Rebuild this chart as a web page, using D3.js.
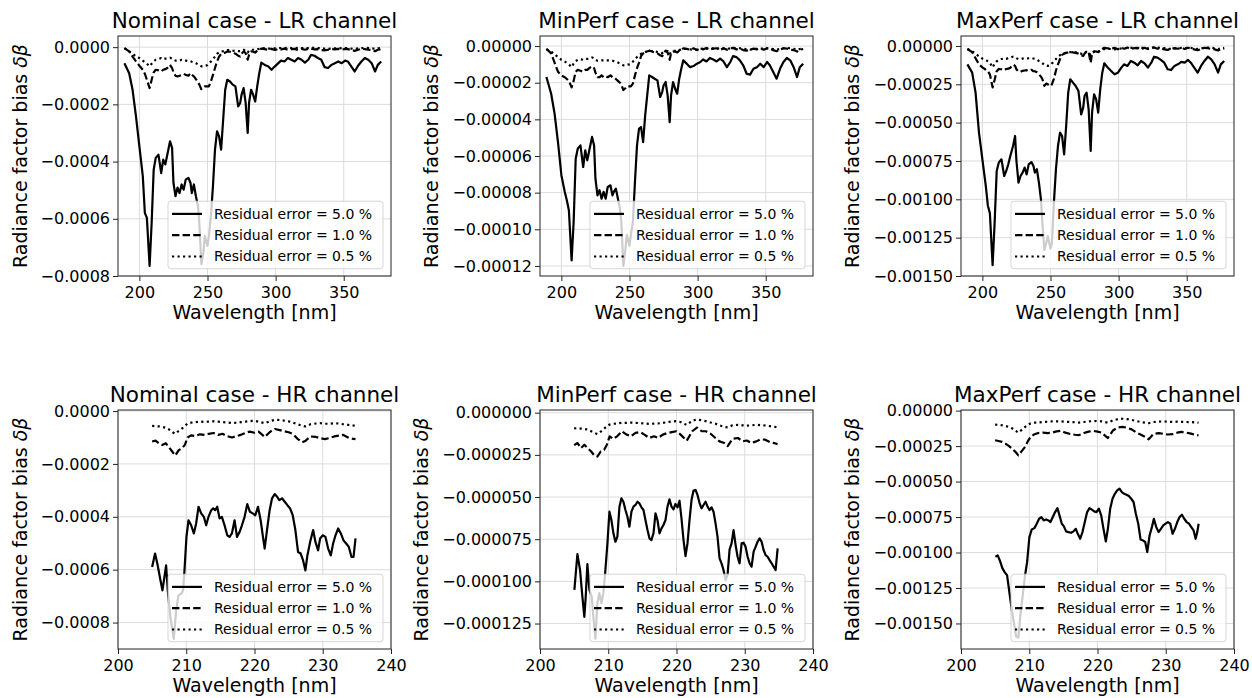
<!DOCTYPE html>
<html lang="en">
<head>
<meta charset="utf-8">
<title>Radiance factor bias</title>
<script src="https://d3js.org/d3.v7.min.js"></script>
<style>
    body { margin: 0; background: #fff; }
    svg text { font-family: "DejaVu Sans", sans-serif; fill: #000; }
    .grid line { stroke: #dcdcdc; stroke-width: 1; }
    .series { fill: none; stroke: #000; stroke-width: 2.2; stroke-linejoin: round; }
</style>
</head>
<body>
<svg id="chart" width="1252" height="698"></svg>
<script>
// ---- LR channel (top row), common wavelength grid [nm]
const lrWave = [
    189, 192.5, 195, 197.5, 200, 202.5, 204, 205.5, 207.5, 209,
    210.5, 212, 214, 216, 217.5, 219, 220.5, 222.5, 224, 225,
    226.5, 228, 229.5, 231, 232.5, 234, 236, 237.5, 238.5, 240,
    241.5, 243, 244, 245.5, 247, 248, 250, 251, 252.5, 254,
    255.5, 257, 258.5, 260, 261.5, 263, 264.5, 266.5, 268.5, 270.5,
    272.5, 274, 275, 276.5, 278, 279.5, 280.5, 282, 283.5, 285,
    286.5, 288, 289.5, 292, 294.5, 297, 299.5, 302, 304, 306.5,
    309, 311.5, 314, 316.5, 319, 321.5, 324, 326, 328.5, 331,
    333.5, 336, 338.5, 341, 343.5, 346, 348.5, 351, 353, 355.5,
    358, 360.5, 363, 365.5, 368, 370.5, 373, 375, 377.5
];

const lrNomSolid = [
    -5.6e-5, -9.1e-5, -14.9e-5, -24.2e-5, -34.7e-5, -45.1e-5, -57.9e-5, -59.7e-5, -76.5e-5, -61.4e-5,
    -42.8e-5, -38.7e-5, -37.6e-5, -44.0e-5, -39.3e-5, -41.0e-5, -37.6e-5, -32.9e-5, -35.2e-5, -47.4e-5,
    -52.1e-5, -49.1e-5, -51.0e-5, -48.0e-5, -49.8e-5, -46.3e-5, -45.7e-5, -47.4e-5, -51.0e-5, -48.0e-5,
    -52.1e-5, -55.6e-5, -61.4e-5, -75.9e-5, -71.9e-5, -66.0e-5, -69.5e-5, -66.0e-5, -59.1e-5, -48.6e-5,
    -35.8e-5, -29.4e-5, -31.2e-5, -35.8e-5, -25.3e-5, -14.9e-5, -11.4e-5, -12.0e-5, -13.1e-5, -13.7e-5,
    -20.7e-5, -19.5e-5, -16.6e-5, -14.3e-5, -19.5e-5, -30.0e-5, -19.5e-5, -14.9e-5, -16.6e-5, -19.0e-5,
    -13.7e-5, -9.1e-5, -5.4e-5, -6.2e-5, -6.7e-5, -7.9e-5, -6.7e-5, -5.6e-5, -4.7e-5, -5.0e-5,
    -3.8e-5, -4.4e-5, -5.0e-5, -3.8e-5, -4.4e-5, -5.4e-5, -4.4e-5, -2.7e-5, -3.0e-5, -3.8e-5,
    -4.4e-5, -7.0e-5, -7.3e-5, -6.2e-5, -5.6e-5, -5.0e-5, -5.6e-5, -4.7e-5, -5.0e-5, -6.7e-5,
    -8.5e-5, -6.5e-5, -5.0e-5, -3.8e-5, -4.4e-5, -5.6e-5, -8.5e-5, -6.2e-5, -5.0e-5
];
const lrNomDash = [
    -0.35e-5, -1.5e-5, -3.3e-5, -5.0e-5, -6.5e-5, -7.9e-5, -9.3e-5, -11.4e-5, -14.3e-5, -11.4e-5,
    -8.8e-5, -7.9e-5, -8.1e-5, -8.5e-5, -7.9e-5, -7.7e-5, -7.3e-5, -6.2e-5, -7.3e-5, -8.8e-5,
    -10.0e-5, -10.2e-5, -10.0e-5, -9.7e-5, -9.3e-5, -9.7e-5, -10.0e-5, -9.1e-5, -9.7e-5, -10.2e-5,
    -11.2e-5, -12.3e-5, -13.1e-5, -14.7e-5, -14.1e-5, -13.7e-5, -13.7e-5, -13.7e-5, -12.0e-5, -9.7e-5,
    -7.3e-5, -5.0e-5, -3.3e-5, -2.4e-5, -2.1e-5, -1.9e-5, -1.5e-5, -1.6e-5, -1.9e-5, -2.3e-5,
    -3.0e-5, -3.3e-5, -2.3e-5, -1.5e-5, -2.1e-5, -4.4e-5, -2.7e-5, -1.5e-5, -1.6e-5, -1.9e-5,
    -1.2e-5, -0.9e-5, -0.5e-5, -0.7e-5, -0.9e-5, -0.6e-5, -1.0e-5, -0.6e-5, -0.8e-5, -0.5e-5,
    -0.9e-5, -0.7e-5, -0.6e-5, -1.0e-5, -0.6e-5, -0.9e-5, -0.6e-5, -0.5e-5, -0.8e-5, -0.7e-5,
    -1.0e-5, -1.1e-5, -0.9e-5, -0.7e-5, -0.8e-5, -0.6e-5, -0.9e-5, -0.6e-5, -0.7e-5, -1.0e-5,
    -1.3e-5, -0.9e-5, -0.6e-5, -0.7e-5, -0.9e-5, -1.0e-5, -1.4e-5, -0.9e-5, -0.8e-5
];
const lrNomDot = [
    -0.35e-5, -1.5e-5, -2.3e-5, -3.3e-5, -3.8e-5, -4.7e-5, -5.3e-5, -5.8e-5, -6.7e-5, -5.8e-5,
    -5.0e-5, -4.4e-5, -4.2e-5, -3.8e-5, -4.2e-5, -4.0e-5, -4.0e-5, -3.7e-5, -4.0e-5, -4.4e-5,
    -4.7e-5, -4.7e-5, -4.7e-5, -4.4e-5, -4.7e-5, -4.7e-5, -4.9e-5, -4.9e-5, -5.1e-5, -5.3e-5,
    -5.6e-5, -6.0e-5, -6.3e-5, -6.7e-5, -6.7e-5, -6.5e-5, -6.3e-5, -5.8e-5, -5.0e-5, -4.2e-5,
    -3.3e-5, -2.3e-5, -1.9e-5, -1.5e-5, -1.4e-5, -1.2e-5, -1.0e-5, -1.0e-5, -1.2e-5, -1.3e-5,
    -1.4e-5, -1.4e-5, -1.2e-5, -0.9e-5, -1.2e-5, -1.9e-5, -1.2e-5, -0.9e-5, -0.9e-5, -0.9e-5,
    -0.7e-5, -0.6e-5, -0.35e-5, -0.4e-5, -0.5e-5, -0.5e-5, -0.4e-5, -0.35e-5, -0.3e-5, -0.35e-5,
    -0.25e-5, -0.3e-5, -0.35e-5, -0.25e-5, -0.3e-5, -0.4e-5, -0.3e-5, -0.2e-5, -0.2e-5, -0.3e-5,
    -0.35e-5, -0.55e-5, -0.6e-5, -0.45e-5, -0.4e-5, -0.35e-5, -0.4e-5, -0.3e-5, -0.35e-5, -0.5e-5,
    -0.65e-5, -0.45e-5, -0.35e-5, -0.25e-5, -0.3e-5, -0.4e-5, -0.6e-5, -0.4e-5, -0.35e-5
];

const lrMinSolid = [
    -1.69e-5, -2.6e-5, -3.69e-5, -5.24e-5, -7.05e-5, -7.96e-5, -8.42e-5, -8.96e-5, -11.7e-5, -9.6e-5,
    -6.15e-5, -5.6e-5, -5.42e-5, -6.6e-5, -5.69e-5, -6.24e-5, -5.69e-5, -4.96e-5, -5.42e-5, -7.24e-5,
    -8.15e-5, -7.87e-5, -8.33e-5, -7.96e-5, -8.33e-5, -7.69e-5, -7.6e-5, -8.15e-5, -7.96e-5, -7.78e-5,
    -8.33e-5, -8.87e-5, -9.6e-5, -12.0e-5, -11.1e-5, -10.3e-5, -10.9e-5, -10.3e-5, -9.6e-5, -7.42e-5,
    -5.42e-5, -4.51e-5, -4.42e-5, -5.24e-5, -3.78e-5, -2.69e-5, -1.6e-5, -1.69e-5, -1.78e-5, -1.87e-5,
    -2.78e-5, -2.51e-5, -2.15e-5, -1.96e-5, -2.69e-5, -4.15e-5, -2.69e-5, -1.96e-5, -2.33e-5, -2.6e-5,
    -1.78e-5, -1.24e-5, -0.78e-5, -0.96e-5, -1.15e-5, -1.09e-5, -0.96e-5, -0.87e-5, -0.73e-5, -0.84e-5,
    -0.65e-5, -0.73e-5, -0.84e-5, -0.69e-5, -0.84e-5, -1.15e-5, -0.87e-5, -0.55e-5, -0.6e-5, -0.78e-5,
    -1.05e-5, -1.51e-5, -1.56e-5, -1.24e-5, -1.15e-5, -0.96e-5, -1.15e-5, -0.87e-5, -1.05e-5, -1.42e-5,
    -1.78e-5, -1.24e-5, -0.87e-5, -0.65e-5, -0.78e-5, -1.15e-5, -1.69e-5, -1.15e-5, -0.96e-5
];
const lrMinDash = [
    -0.15e-5, -0.4e-5, -0.9e-5, -1.4e-5, -1.6e-5, -1.7e-5, -1.8e-5, -1.9e-5, -2.25e-5, -1.9e-5,
    -1.4e-5, -1.3e-5, -1.35e-5, -1.4e-5, -1.3e-5, -1.3e-5, -1.2e-5, -1.1e-5, -1.2e-5, -1.45e-5,
    -1.7e-5, -1.7e-5, -1.6e-5, -1.7e-5, -1.65e-5, -1.7e-5, -1.6e-5, -1.7e-5, -1.7e-5, -1.8e-5,
    -1.9e-5, -2.0e-5, -2.1e-5, -2.4e-5, -2.3e-5, -2.2e-5, -2.2e-5, -2.2e-5, -2.05e-5, -1.6e-5,
    -1.2e-5, -0.9e-5, -0.55e-5, -0.4e-5, -0.35e-5, -0.3e-5, -0.25e-5, -0.3e-5, -0.35e-5, -0.4e-5,
    -0.5e-5, -0.55e-5, -0.4e-5, -0.25e-5, -0.35e-5, -0.75e-5, -0.4e-5, -0.3e-5, -0.3e-5, -0.35e-5,
    -0.25e-5, -0.2e-5, -0.12e-5, -0.15e-5, -0.2e-5, -0.12e-5, -0.22e-5, -0.12e-5, -0.18e-5, -0.1e-5,
    -0.2e-5, -0.14e-5, -0.12e-5, -0.22e-5, -0.12e-5, -0.2e-5, -0.12e-5, -0.1e-5, -0.18e-5, -0.14e-5,
    -0.22e-5, -0.25e-5, -0.2e-5, -0.14e-5, -0.18e-5, -0.12e-5, -0.2e-5, -0.12e-5, -0.15e-5, -0.22e-5,
    -0.28e-5, -0.2e-5, -0.12e-5, -0.14e-5, -0.2e-5, -0.22e-5, -0.3e-5, -0.2e-5, -0.16e-5
];
const lrMinDot = [
    -0.18e-5, -0.3e-5, -0.45e-5, -0.6e-5, -0.75e-5, -0.85e-5, -0.92e-5, -1.0e-5, -1.15e-5, -0.95e-5,
    -0.82e-5, -0.75e-5, -0.72e-5, -0.75e-5, -0.7e-5, -0.7e-5, -0.68e-5, -0.62e-5, -0.66e-5, -0.75e-5,
    -0.8e-5, -0.8e-5, -0.78e-5, -0.78e-5, -0.8e-5, -0.78e-5, -0.78e-5, -0.8e-5, -0.82e-5, -0.85e-5,
    -0.9e-5, -0.95e-5, -0.98e-5, -1.05e-5, -1.05e-5, -1.02e-5, -1.0e-5, -0.95e-5, -0.85e-5, -0.72e-5,
    -0.6e-5, -0.5e-5, -0.42e-5, -0.36e-5, -0.32e-5, -0.3e-5, -0.27e-5, -0.27e-5, -0.29e-5, -0.32e-5,
    -0.36e-5, -0.38e-5, -0.32e-5, -0.26e-5, -0.28e-5, -0.45e-5, -0.32e-5, -0.26e-5, -0.26e-5, -0.27e-5,
    -0.22e-5, -0.18e-5, -0.15e-5, -0.16e-5, -0.18e-5, -0.2e-5, -0.18e-5, -0.15e-5, -0.13e-5, -0.14e-5,
    -0.12e-5, -0.13e-5, -0.14e-5, -0.12e-5, -0.13e-5, -0.15e-5, -0.13e-5, -0.1e-5, -0.11e-5, -0.12e-5,
    -0.14e-5, -0.18e-5, -0.19e-5, -0.16e-5, -0.15e-5, -0.13e-5, -0.14e-5, -0.12e-5, -0.13e-5, -0.16e-5,
    -0.2e-5, -0.16e-5, -0.12e-5, -0.1e-5, -0.12e-5, -0.15e-5, -0.2e-5, -0.16e-5, -0.13e-5
];

const lrMaxSolid = [
    -12.0e-5, -17.4e-5, -30.4e-5, -56.5e-5, -73.9e-5, -91.3e-5, -104e-5, -109e-5, -143e-5, -115e-5,
    -81.5e-5, -76.1e-5, -73.9e-5, -84.8e-5, -81.5e-5, -77.2e-5, -71.7e-5, -65.2e-5, -58.7e-5, -75.0e-5,
    -89.1e-5, -84.8e-5, -82.6e-5, -79.3e-5, -83.7e-5, -77.2e-5, -75.7e-5, -78.3e-5, -82.6e-5, -80.4e-5,
    -89.1e-5, -100e-5, -115e-5, -133e-5, -128e-5, -124e-5, -132e-5, -129e-5, -102e-5, -80.4e-5,
    -65.2e-5, -56.5e-5, -58.7e-5, -70.7e-5, -52.2e-5, -30.4e-5, -21.7e-5, -23.9e-5, -26.1e-5, -29.3e-5,
    -44.6e-5, -40.2e-5, -32.6e-5, -30.4e-5, -41.3e-5, -68.5e-5, -43.5e-5, -31.5e-5, -34.8e-5, -43.5e-5,
    -28.3e-5, -17.4e-5, -11.3e-5, -14.1e-5, -16.3e-5, -18.5e-5, -17.4e-5, -14.1e-5, -12.0e-5, -13.0e-5,
    -9.8e-5, -10.9e-5, -12.6e-5, -9.8e-5, -11.3e-5, -14.1e-5, -10.9e-5, -7.0e-5, -7.6e-5, -9.1e-5,
    -10.9e-5, -15.2e-5, -15.7e-5, -13.0e-5, -12.0e-5, -10.4e-5, -10.9e-5, -9.1e-5, -10.9e-5, -14.1e-5,
    -17.4e-5, -13.0e-5, -9.8e-5, -7.0e-5, -8.7e-5, -12.0e-5, -17.4e-5, -12.0e-5, -9.8e-5
];
const lrMaxDash = [
    -2.0e-5, -4.0e-5, -8.0e-5, -12.0e-5, -14.0e-5, -15.5e-5, -16.5e-5, -18.5e-5, -27.0e-5, -22.0e-5,
    -16.5e-5, -15.0e-5, -15.2e-5, -15.8e-5, -15.0e-5, -14.8e-5, -14.2e-5, -12.2e-5, -13.0e-5, -15.2e-5,
    -16.8e-5, -16.8e-5, -16.2e-5, -16.0e-5, -15.8e-5, -16.2e-5, -15.5e-5, -16.5e-5, -16.5e-5, -17.2e-5,
    -18.5e-5, -20.0e-5, -21.5e-5, -26.0e-5, -24.5e-5, -25.0e-5, -26.2e-5, -25.0e-5, -21.5e-5, -16.0e-5,
    -12.0e-5, -8.5e-5, -5.8e-5, -5.0e-5, -4.5e-5, -4.2e-5, -3.8e-5, -4.2e-5, -4.5e-5, -5.0e-5,
    -6.0e-5, -6.5e-5, -5.0e-5, -3.5e-5, -4.0e-5, -11.0e-5, -5.0e-5, -3.5e-5, -3.6e-5, -4.0e-5,
    -2.8e-5, -2.0e-5, -1.2e-5, -1.5e-5, -2.0e-5, -1.2e-5, -2.2e-5, -1.2e-5, -1.8e-5, -1.0e-5,
    -2.0e-5, -1.4e-5, -1.2e-5, -2.2e-5, -1.2e-5, -2.0e-5, -1.2e-5, -1.0e-5, -1.8e-5, -1.4e-5,
    -2.2e-5, -2.5e-5, -2.0e-5, -1.4e-5, -1.8e-5, -1.2e-5, -2.0e-5, -1.2e-5, -1.5e-5, -2.2e-5,
    -2.8e-5, -2.0e-5, -1.2e-5, -1.4e-5, -2.0e-5, -2.2e-5, -3.0e-5, -2.0e-5, -1.6e-5
];
const lrMaxDot = [
    -2.0e-5, -3.5e-5, -5.0e-5, -6.8e-5, -8.2e-5, -9.0e-5, -10.0e-5, -11.0e-5, -14.0e-5, -11.5e-5,
    -10.0e-5, -9.0e-5, -8.5e-5, -8.2e-5, -8.5e-5, -7.8e-5, -7.6e-5, -7.0e-5, -7.2e-5, -8.0e-5,
    -8.5e-5, -8.5e-5, -8.2e-5, -8.0e-5, -8.2e-5, -8.0e-5, -7.8e-5, -8.2e-5, -8.5e-5, -9.0e-5,
    -9.8e-5, -10.5e-5, -11.2e-5, -12.5e-5, -12.8e-5, -13.0e-5, -12.5e-5, -11.5e-5, -10.0e-5, -8.5e-5,
    -7.0e-5, -6.0e-5, -5.2e-5, -4.6e-5, -4.4e-5, -4.2e-5, -4.0e-5, -4.0e-5, -4.2e-5, -4.5e-5,
    -5.0e-5, -5.2e-5, -4.5e-5, -3.8e-5, -4.0e-5, -6.0e-5, -4.5e-5, -3.8e-5, -3.6e-5, -3.8e-5,
    -3.2e-5, -2.5e-5, -2.0e-5, -1.8e-5, -2.0e-5, -2.2e-5, -2.0e-5, -1.6e-5, -1.4e-5, -1.5e-5,
    -1.2e-5, -1.3e-5, -1.5e-5, -1.2e-5, -1.3e-5, -1.6e-5, -1.3e-5, -0.9e-5, -1.0e-5, -1.2e-5,
    -1.4e-5, -1.8e-5, -1.9e-5, -1.6e-5, -1.5e-5, -1.3e-5, -1.4e-5, -1.2e-5, -1.3e-5, -1.6e-5,
    -2.0e-5, -1.6e-5, -1.2e-5, -1.0e-5, -1.2e-5, -1.5e-5, -2.0e-5, -1.6e-5, -1.3e-5
];

// ---- HR channel (bottom row)
const hrNomWave = [
    205.0, 205.43, 205.82, 206.22, 206.51, 206.8, 207.05, 207.29, 207.68, 208.17,
    208.52, 208.86, 209.25, 209.54, 209.74, 210.03, 210.33, 210.72, 211.11, 211.45,
    211.8, 212.19, 212.58, 212.92, 213.26, 213.66, 213.95, 214.24, 214.54, 214.88,
    215.22, 215.61, 216.01, 216.35, 216.69, 217.08, 217.43, 217.82, 218.16, 218.55,
    218.94, 219.33, 219.73, 220.12, 220.51, 220.9, 221.24, 221.49, 221.83, 222.22,
    222.57, 222.96, 223.25, 223.64, 224.03, 224.43, 224.82, 225.21, 225.6, 225.99,
    226.38, 226.77, 227.12, 227.46, 227.75, 228.15, 228.59, 228.93, 229.32, 229.61,
    230.01, 230.4, 230.79, 231.18, 231.52, 231.87, 232.26, 232.65, 233.04, 233.43,
    233.82, 234.21, 234.51, 234.8
];
const hrNomSolid = [
    -59.0e-5, -53.9e-5, -58.4e-5, -64.0e-5, -67.8e-5, -62.8e-5, -58.4e-5, -67.8e-5, -78.0e-5, -86.2e-5,
    -75.4e-5, -69.7e-5, -69.1e-5, -67.8e-5, -60.3e-5, -47.6e-5, -41.3e-5, -43.2e-5, -46.3e-5, -42.5e-5,
    -36.2e-5, -38.7e-5, -40.0e-5, -43.2e-5, -40.0e-5, -37.5e-5, -36.8e-5, -37.5e-5, -36.2e-5, -40.6e-5,
    -40.0e-5, -43.2e-5, -47.0e-5, -47.6e-5, -46.3e-5, -41.3e-5, -47.6e-5, -45.7e-5, -43.2e-5, -40.0e-5,
    -35.2e-5, -38.1e-5, -38.7e-5, -39.4e-5, -36.2e-5, -41.3e-5, -47.6e-5, -52.0e-5, -45.0e-5, -37.5e-5,
    -33.0e-5, -31.4e-5, -32.2e-5, -33.7e-5, -33.0e-5, -34.3e-5, -35.6e-5, -36.8e-5, -39.4e-5, -45.0e-5,
    -53.3e-5, -53.9e-5, -56.5e-5, -60.3e-5, -54.6e-5, -49.5e-5, -45.0e-5, -49.5e-5, -52.7e-5, -48.2e-5,
    -47.0e-5, -47.6e-5, -52.0e-5, -54.6e-5, -50.1e-5, -47.0e-5, -44.4e-5, -46.3e-5, -48.9e-5, -50.1e-5,
    -51.4e-5, -55.2e-5, -55.2e-5, -48.2e-5
];

const hrMinWave = [
    205.04, 205.48, 205.87, 206.21, 206.5, 206.7, 206.94, 207.24, 207.58, 207.82,
    208.12, 208.41, 208.7, 209.0, 209.29, 209.58, 209.88, 210.17, 210.46, 210.76,
    211.05, 211.34, 211.64, 211.93, 212.22, 212.52, 212.81, 213.1, 213.4, 213.69,
    213.99, 214.28, 214.57, 214.87, 215.16, 215.45, 215.75, 216.04, 216.33, 216.63,
    216.92, 217.21, 217.51, 217.8, 218.09, 218.39, 218.68, 218.97, 219.27, 219.56,
    219.85, 220.15, 220.44, 220.73, 221.03, 221.32, 221.61, 221.91, 222.2, 222.49,
    222.79, 223.08, 223.37, 223.67, 223.96, 224.25, 224.55, 224.84, 225.13, 225.43,
    225.72, 226.01, 226.31, 226.6, 226.89, 227.19, 227.48, 227.78, 228.07, 228.36,
    228.66, 228.95, 229.24, 229.54, 229.83, 230.12, 230.42, 230.71, 231.0, 231.3,
    231.59, 231.88, 232.18, 232.47, 232.76, 233.06, 233.35, 233.64, 233.94, 234.23,
    234.52, 234.82
];
const hrMinSolid = [
    -10.5e-5, -8.38e-5, -9.33e-5, -10.9e-5, -12.1e-5, -10.9e-5, -8.97e-5, -10.5e-5, -10.9e-5, -12.1e-5,
    -13.4e-5, -11.3e-5, -10.7e-5, -11.3e-5, -10.7e-5, -9.33e-5, -7.75e-5, -5.87e-5, -6.36e-5, -7.15e-5,
    -7.65e-5, -7.35e-5, -5.57e-5, -5.08e-5, -5.28e-5, -5.77e-5, -6.17e-5, -6.76e-5, -5.87e-5, -5.57e-5,
    -5.47e-5, -5.28e-5, -5.38e-5, -5.61e-5, -5.77e-5, -6.36e-5, -6.96e-5, -7.45e-5, -7.55e-5, -7.15e-5,
    -5.97e-5, -6.36e-5, -7.15e-5, -6.86e-5, -6.66e-5, -6.36e-5, -5.57e-5, -5.14e-5, -5.57e-5, -5.73e-5,
    -5.41e-5, -5.61e-5, -5.22e-5, -6.26e-5, -7.55e-5, -8.5e-5, -7.75e-5, -6.36e-5, -5.18e-5, -4.62e-5,
    -4.58e-5, -4.88e-5, -5.34e-5, -5.67e-5, -5.47e-5, -5.28e-5, -5.57e-5, -5.77e-5, -5.61e-5, -5.87e-5,
    -6.56e-5, -7.35e-5, -8.64e-5, -8.93e-5, -9.33e-5, -9.92e-5, -9.62e-5, -8.1e-5, -7.75e-5, -6.96e-5,
    -7.85e-5, -8.54e-5, -8.93e-5, -7.75e-5, -7.71e-5, -7.95e-5, -8.54e-5, -8.93e-5, -9.13e-5, -8.24e-5,
    -7.95e-5, -7.65e-5, -7.45e-5, -7.65e-5, -8.14e-5, -8.44e-5, -8.54e-5, -8.74e-5, -8.93e-5, -9.13e-5,
    -9.33e-5, -8.04e-5
];

const hrMaxWave = [
    205.04, 205.38, 205.72, 206.06, 206.41, 206.75, 207.09, 207.43, 207.73, 208.07,
    208.41, 208.7, 209.05, 209.39, 209.68, 210.02, 210.37, 210.76, 211.1, 211.44,
    211.78, 212.13, 212.47, 212.81, 213.11, 213.45, 213.79, 214.13, 214.43, 214.77,
    215.06, 215.4, 215.75, 216.14, 216.48, 216.82, 217.11, 217.46, 217.8, 218.14,
    218.48, 218.83, 219.17, 219.51, 219.85, 220.2, 220.54, 220.88, 221.22, 221.52,
    221.86, 222.2, 222.54, 222.89, 223.23, 223.57, 223.91, 224.25, 224.6, 224.94,
    225.28, 225.62, 225.97, 226.31, 226.65, 226.99, 227.29, 227.63, 227.97, 228.26,
    228.61, 228.95, 229.29, 229.63, 229.98, 230.32, 230.66, 231.0, 231.34, 231.69,
    232.03, 232.37, 232.71, 233.06, 233.4, 233.74, 234.08, 234.38, 234.62, 234.82
];
const hrMaxSolid = [
    -103e-5, -102e-5, -106e-5, -111e-5, -114e-5, -116e-5, -128e-5, -140e-5, -149e-5, -159e-5,
    -160e-5, -144e-5, -130e-5, -116e-5, -107e-5, -89.1e-5, -83.7e-5, -82.8e-5, -79.7e-5, -76.2e-5,
    -75.0e-5, -77.4e-5, -76.7e-5, -77.4e-5, -78.5e-5, -75.0e-5, -71.5e-5, -68.7e-5, -73.8e-5, -79.7e-5,
    -81.4e-5, -85.1e-5, -85.6e-5, -86.1e-5, -85.1e-5, -83.3e-5, -86.8e-5, -90.3e-5, -85.6e-5, -78.5e-5,
    -71.5e-5, -68.7e-5, -69.8e-5, -71.0e-5, -71.5e-5, -69.1e-5, -73.8e-5, -83.3e-5, -92.2e-5, -83.3e-5,
    -69.1e-5, -62.1e-5, -58.6e-5, -56.2e-5, -55.0e-5, -57.4e-5, -58.6e-5, -59.3e-5, -60.2e-5, -62.1e-5,
    -64.4e-5, -72.7e-5, -79.7e-5, -90.8e-5, -91.5e-5, -92.6e-5, -99.7e-5, -88.0e-5, -82.1e-5, -76.2e-5,
    -82.1e-5, -85.6e-5, -83.3e-5, -80.9e-5, -79.7e-5, -78.5e-5, -79.7e-5, -86.8e-5, -83.3e-5, -78.5e-5,
    -75.0e-5, -73.4e-5, -76.2e-5, -78.5e-5, -79.7e-5, -82.1e-5, -84.4e-5, -90.3e-5, -85.6e-5, -79.7e-5
];

// dashed / dotted HR series share one grid
const hrWave = [
    205.0, 205.5, 206.0, 206.5, 207.0, 207.5, 208.0, 208.4, 208.9, 209.4,
    209.8, 210.2, 210.7, 211.3, 212.0, 212.7, 213.3, 214.0, 214.7, 215.3,
    216.0, 216.7, 217.3, 218.0, 218.7, 219.3, 220.0, 220.6, 221.5, 222.3,
    223.0, 223.7, 224.3, 225.0, 225.7, 226.3, 227.0, 227.5, 228.2, 229.0,
    229.7, 230.3, 231.0, 231.7, 232.3, 233.0, 233.7, 234.3, 234.8
];
const hrNomDash = [
    -11.5e-5, -11.2e-5, -12.2e-5, -12.8e-5, -12.2e-5, -13.8e-5, -15.5e-5, -16.8e-5, -14.8e-5, -14.0e-5,
    -12.8e-5, -10.0e-5, -9.2e-5, -9.4e-5, -8.8e-5, -9.0e-5, -8.6e-5, -8.3e-5, -9.0e-5, -8.6e-5,
    -9.5e-5, -10.0e-5, -9.5e-5, -9.0e-5, -8.2e-5, -7.8e-5, -8.2e-5, -7.8e-5, -9.8e-5, -7.8e-5,
    -6.8e-5, -7.2e-5, -7.6e-5, -8.0e-5, -8.8e-5, -10.5e-5, -11.8e-5, -11.2e-5, -9.6e-5, -9.8e-5,
    -10.3e-5, -10.6e-5, -10.2e-5, -9.6e-5, -9.3e-5, -9.0e-5, -10.0e-5, -10.4e-5, -10.6e-5
];
const hrNomDot = [
    -5.6e-5, -5.7e-5, -5.8e-5, -6.0e-5, -6.3e-5, -7.0e-5, -8.0e-5, -8.6e-5, -7.5e-5, -6.6e-5,
    -5.6e-5, -4.7e-5, -4.4e-5, -4.2e-5, -4.0e-5, -4.1e-5, -4.0e-5, -3.9e-5, -4.0e-5, -4.2e-5,
    -4.3e-5, -4.5e-5, -4.4e-5, -4.2e-5, -4.0e-5, -3.8e-5, -3.7e-5, -4.0e-5, -4.6e-5, -3.8e-5,
    -3.3e-5, -3.4e-5, -3.6e-5, -3.9e-5, -4.4e-5, -5.0e-5, -5.6e-5, -5.8e-5, -5.0e-5, -4.7e-5,
    -4.6e-5, -4.8e-5, -4.8e-5, -4.6e-5, -4.7e-5, -5.0e-5, -5.2e-5, -5.4e-5, -5.6e-5
];
const hrMinDash = [
    -1.92e-5, -1.8e-5, -2.1e-5, -1.9e-5, -2.1e-5, -2.3e-5, -2.55e-5, -2.6e-5, -2.3e-5, -2.2e-5,
    -1.9e-5, -1.4e-5, -1.55e-5, -1.4e-5, -1.1e-5, -1.3e-5, -1.4e-5, -1.2e-5, -1.15e-5, -1.3e-5,
    -1.5e-5, -1.4e-5, -1.5e-5, -1.3e-5, -1.2e-5, -1.15e-5, -1.1e-5, -1.3e-5, -1.66e-5, -1.1e-5,
    -0.88e-5, -1.1e-5, -1.1e-5, -1.25e-5, -1.5e-5, -1.7e-5, -1.8e-5, -1.98e-5, -1.55e-5, -1.5e-5,
    -1.7e-5, -1.65e-5, -1.8e-5, -1.7e-5, -1.58e-5, -1.6e-5, -1.75e-5, -1.8e-5, -1.86e-5
];
const hrMinDot = [
    -0.93e-5, -0.92e-5, -0.94e-5, -0.97e-5, -1.0e-5, -1.1e-5, -1.2e-5, -1.26e-5, -1.12e-5, -0.95e-5,
    -0.8e-5, -0.7e-5, -0.66e-5, -0.64e-5, -0.6e-5, -0.6e-5, -0.58e-5, -0.6e-5, -0.62e-5, -0.64e-5,
    -0.66e-5, -0.65e-5, -0.64e-5, -0.6e-5, -0.56e-5, -0.52e-5, -0.5e-5, -0.55e-5, -0.73e-5, -0.48e-5,
    -0.4e-5, -0.45e-5, -0.5e-5, -0.58e-5, -0.65e-5, -0.75e-5, -0.85e-5, -0.87e-5, -0.75e-5, -0.72e-5,
    -0.75e-5, -0.77e-5, -0.75e-5, -0.72e-5, -0.74e-5, -0.76e-5, -0.8e-5, -0.83e-5, -0.87e-5
];
const hrMaxDash = [
    -20.9e-5, -21.4e-5, -22.0e-5, -23.2e-5, -24.8e-5, -26.8e-5, -29.2e-5, -31.5e-5, -28.5e-5, -25.5e-5,
    -21.5e-5, -18.5e-5, -16.8e-5, -15.8e-5, -15.5e-5, -15.8e-5, -15.6e-5, -14.6e-5, -14.2e-5, -15.5e-5,
    -16.5e-5, -17.0e-5, -17.2e-5, -15.8e-5, -14.8e-5, -14.2e-5, -14.8e-5, -15.5e-5, -19.3e-5, -13.8e-5,
    -11.8e-5, -11.5e-5, -12.0e-5, -13.2e-5, -15.5e-5, -16.8e-5, -18.6e-5, -20.2e-5, -16.5e-5, -15.8e-5,
    -16.4e-5, -16.8e-5, -16.6e-5, -15.5e-5, -15.0e-5, -15.5e-5, -16.2e-5, -17.0e-5, -17.4e-5
];
const hrMaxDot = [
    -9.88e-5, -10.0e-5, -10.3e-5, -10.8e-5, -11.5e-5, -12.5e-5, -14.2e-5, -15.5e-5, -13.5e-5, -11.5e-5,
    -10.0e-5, -9.0e-5, -8.5e-5, -8.3e-5, -8.0e-5, -7.8e-5, -7.6e-5, -7.5e-5, -7.6e-5, -7.8e-5,
    -8.0e-5, -8.2e-5, -8.4e-5, -8.0e-5, -7.6e-5, -7.4e-5, -7.3e-5, -7.6e-5, -8.5e-5, -6.8e-5,
    -6.0e-5, -5.7e-5, -6.0e-5, -6.5e-5, -7.3e-5, -8.0e-5, -8.5e-5, -8.8e-5, -8.0e-5, -7.7e-5,
    -7.6e-5, -7.8e-5, -8.0e-5, -7.8e-5, -7.9e-5, -8.0e-5, -8.1e-5, -8.3e-5, -8.5e-5
];

// ---- ticks and labels
const lrTicks = [200, 250, 300, 350];
const hrTicks = [200, 210, 220, 230, 240];
const nomLrYTicks = [0, -0.0002, -0.0004, -0.0006, -0.0008];
const minLrYTicks = [0, -0.00002, -0.00004, -0.00006, -0.00008, -0.0001, -0.00012];
const maxYTicks = [0, -0.00025, -0.0005, -0.00075, -0.001, -0.00125, -0.0015];
const nomHrYTicks = [0, -0.0002, -0.0004, -0.0006, -0.0008];
const minHrYTicks = [0, -0.000025, -0.00005, -0.000075, -0.0001, -0.000125];
const legendLabels = ["Residual error = 5.0 %", "Residual error = 1.0 %", "Residual error = 0.5 %"];
const dashStyles = [null, "7.4,3.2", "2.2,3.3"];

let svg = d3.select("#chart");
let W = 273;

let panels = [
    {title: "Nominal case - LR channel", left: 118, top: 36, h: 240,
     xDom: [184.3, 384.7], xTicks: lrTicks, yDom: [-0.0008, 0.000039], yTicks: nomLrYTicks, fmt: ".4f",
     series: [[lrWave, lrNomSolid], [lrWave, lrNomDash], [lrWave, lrNomDot]]},
    {title: "MinPerf case - LR channel", left: 540, top: 36, h: 240,
     xDom: [184.3, 384.7], xTicks: lrTicks, yDom: [-0.0001255, 0.0000055], yTicks: minLrYTicks, fmt: ".5f",
     series: [[lrWave, lrMinSolid], [lrWave, lrMinDash], [lrWave, lrMinDot]]},
    {title: "MaxPerf case - LR channel", left: 961, top: 36, h: 240,
     xDom: [184.3, 384.7], xTicks: lrTicks, yDom: [-0.0015, 0.000065], yTicks: maxYTicks, fmt: ".5f",
     series: [[lrWave, lrMaxSolid], [lrWave, lrMaxDash], [lrWave, lrMaxDot]]},
    {title: "Nominal case - HR channel", left: 118, top: 410, h: 239,
     xDom: [200, 240], xTicks: hrTicks, yDom: [-0.0009, 0.000004], yTicks: nomHrYTicks, fmt: ".4f",
     series: [[hrNomWave, hrNomSolid], [hrWave, hrNomDash], [hrWave, hrNomDot]]},
    {title: "MinPerf case - HR channel", left: 540, top: 410, h: 239,
     xDom: [200, 240], xTicks: hrTicks, yDom: [-0.0001401, 0.0000016], yTicks: minHrYTicks, fmt: ".6f",
     series: [[hrMinWave, hrMinSolid], [hrWave, hrMinDash], [hrWave, hrMinDot]]},
    {title: "MaxPerf case - HR channel", left: 961, top: 410, h: 239,
     xDom: [200, 240], xTicks: hrTicks, yDom: [-0.00168, 0.0000045], yTicks: maxYTicks, fmt: ".5f",
     series: [[hrMaxWave, hrMaxSolid], [hrWave, hrMaxDash], [hrWave, hrMaxDot]]}
];

panels.forEach(drawPanel);

function drawPanel(p) {
    let H = p.h;
    let g = svg.append("g").attr("transform", `translate(${p.left},${p.top})`);
    let x = d3.scaleLinear().domain(p.xDom).range([0, W]);
    let y = d3.scaleLinear().domain(p.yDom).range([H, 0]);

    // grid
    let grid = g.append("g").attr("class", "grid");
    grid.selectAll(".gx").data(p.xTicks).join("line")
        .attr("x1", d => x(d)).attr("x2", d => x(d)).attr("y1", 0).attr("y2", H);
    grid.selectAll(".gy").data(p.yTicks).join("line")
        .attr("x1", 0).attr("x2", W).attr("y1", d => y(d)).attr("y2", d => y(d));

    // lines
    let line = d3.line().x(d => x(d[0])).y(d => y(d[1]));
    p.series.forEach((s, i) => {
        g.append("path")
            .datum(d3.zip(s[0], s[1]))
            .attr("class", "series")
            .attr("d", line)
            .attr("stroke-dasharray", dashStyles[i]);
    });

    // legend (semi transparent white box)
    let lw = 215, lh = 67.5;
    let lg = g.append("g").attr("transform", `translate(${W - 8 - lw},${H - 7.3 - lh})`);
    lg.append("rect").attr("width", lw).attr("height", lh).attr("rx", 3)
        .attr("fill", "#fff").attr("fill-opacity", 0.8)
        .attr("stroke", "#cccccc").attr("stroke-opacity", 0.8);
    legendLabels.forEach((t, i) => {
        let cy = 12.7 + i * 21.3;
        lg.append("line").attr("class", "series")
            .attr("x1", 4).attr("x2", 34).attr("y1", cy).attr("y2", cy)
            .attr("stroke-dasharray", dashStyles[i]);
        lg.append("text").attr("x", 46).attr("y", cy).attr("dy", "0.35em")
            .style("font-size", "14px").text(t);
    });

    // frame
    g.append("rect").attr("width", W).attr("height", H)
        .attr("fill", "none").attr("stroke", "#222").attr("stroke-width", 1);

    // axes
    let xAxis = g.append("g").attr("transform", `translate(0,${H})`)
        .call(d3.axisBottom(x).tickValues(p.xTicks).tickSize(5).tickPadding(5.5).tickFormat(d3.format("d")));
    let yAxis = g.append("g")
        .call(d3.axisLeft(y).tickValues(p.yTicks).tickSize(5).tickPadding(3).tickFormat(d3.format(p.fmt)));
    [xAxis, yAxis].forEach(a => {
        a.select(".domain").remove();
        a.attr("font-family", null).attr("font-size", null);
        a.selectAll("line").attr("stroke", "#222");
        a.selectAll("text").style("font-size", "16px").attr("fill", "#000");
    });

    // title and axis labels
    g.append("text").attr("x", W / 2).attr("y", -8).attr("text-anchor", "middle")
        .style("font-size", "21.5px").text(p.title);
    g.append("text").attr("x", W / 2).attr("y", H + 43).attr("text-anchor", "middle")
        .style("font-size", "19px").text("Wavelength [nm]");

    let bx = yAxis.node().getBBox().x;
    let yl = g.append("text")
        .attr("transform", `translate(${bx - 14},${H / 2}) rotate(-90)`)
        .attr("text-anchor", "middle").style("font-size", "19px");
    yl.append("tspan").text("Radiance factor bias ");
    yl.append("tspan").style("font-style", "italic").text("δβ");
}
</script>
</body>
</html>
